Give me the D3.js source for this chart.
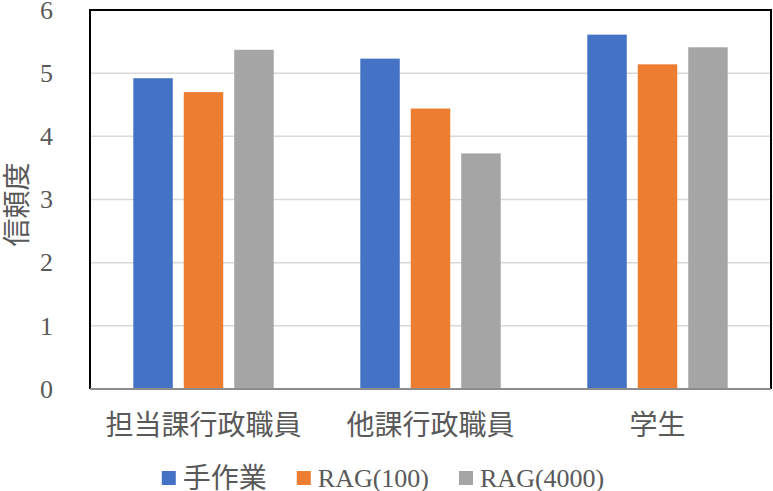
<!DOCTYPE html>
<html>
<head>
<meta charset="utf-8">
<script src="https://cdn.jsdelivr.net/npm/d3@7"></script>
<style>
  body { margin: 0; background: #fff; }
  text { font-family: "Liberation Serif", "Noto Sans CJK JP", serif; fill: #595959; }
</style>
</head>
<body>
<div id="chart"></div>
<script>
// Data
const categories = ["担当課行政職員", "他課行政職員", "学生"];
const seriesNames = ["手作業", "RAG(100)", "RAG(4000)"];
const seriesColors = ["#4472C4", "#ED7D31", "#A5A5A5"];
const manualValues = [4.92, 5.23, 5.61];
const rag100Values = [4.70, 4.44, 5.14];
const rag4000Values = [5.37, 3.73, 5.41];
const yTicks = [0, 1, 2, 3, 4, 5, 6];

const seriesValues = [manualValues, rag100Values, rag4000Values];

// Dimensions
const width = 773;
const height = 491;
const margin = {top: 10, right: 2, bottom: 102, left: 90};
const innerWidth = width - margin.left - margin.right;
const innerHeight = height - margin.top - margin.bottom;

const svg = d3.select("#chart")
  .append("svg")
    .attr("width", width)
    .attr("height", height);

const innerChart = svg
  .append("g")
    .attr("transform", `translate(${margin.left}, ${margin.top})`);

// Scales
const xScale = d3.scaleBand()
  .domain(categories)
  .range([0, innerWidth])
  .padding(0);

const groupWidth = xScale.bandwidth() * 0.667;
const xSub = d3.scaleBand()
  .domain(seriesNames)
  .range([-groupWidth / 2, groupWidth / 2])
  .paddingInner(0.218)
  .paddingOuter(0.109);

const yScale = d3.scaleLinear()
  .domain([0, 6])
  .range([innerHeight, 0]);

// Gridlines
innerChart
  .selectAll(".grid")
  .data(yTicks.filter(d => d > 0 && d < 6))
  .join("line")
    .attr("class", "grid")
    .attr("x1", 0)
    .attr("x2", innerWidth)
    .attr("y1", d => yScale(d))
    .attr("y2", d => yScale(d))
    .attr("stroke", "#d9d9d9")
    .attr("stroke-width", 1.5);

// Bars
const rows = categories.map((c, i) => ({
  category: c,
  values: seriesNames.map((s, j) => ({series: s, value: seriesValues[j][i], color: seriesColors[j]}))
}));

const groups = innerChart
  .selectAll(".group")
  .data(rows)
  .join("g")
    .attr("class", "group")
    .attr("transform", d => `translate(${xScale(d.category) + xScale.bandwidth() / 2}, 0)`);

groups
  .selectAll("rect")
  .data(d => d.values)
  .join("rect")
    .attr("x", d => xSub(d.series))
    .attr("y", d => yScale(d.value))
    .attr("width", xSub.bandwidth())
    .attr("height", d => innerHeight - yScale(d.value))
    .attr("fill", d => d.color);

// Frame (black on left, top, right)
innerChart
  .append("path")
    .attr("d", `M0,${innerHeight} V0 H${innerWidth} V${innerHeight}`)
    .attr("fill", "none")
    .attr("stroke", "#000")
    .attr("stroke-width", 2);

// x-axis baseline
innerChart
  .append("line")
    .attr("x1", 0)
    .attr("x2", innerWidth)
    .attr("y1", innerHeight)
    .attr("y2", innerHeight)
    .attr("stroke", "#8c8c8c")
    .attr("stroke-width", 2);

// y-axis tick labels
const yAxis = d3.axisLeft(yScale)
  .tickValues(yTicks)
  .tickSize(0)
  .tickPadding(37)
  .tickFormat(d3.format("d"));

innerChart
  .append("g")
    .attr("id", "yaxis")
    .call(yAxis)
    .call(g => g.select(".domain").remove())
    .call(g => g.selectAll("text")
      .attr("font-size", 26)
      .attr("fill", "#595959")
      .style("font-family", "'Liberation Serif', serif"));

// x-axis category labels
const xAxis = d3.axisBottom(xScale)
  .tickSize(0)
  .tickPadding(24);

innerChart
  .append("g")
    .attr("id", "xaxis")
    .attr("transform", `translate(0, ${innerHeight})`)
    .call(xAxis)
    .call(g => g.select(".domain").remove())
    .call(g => g.selectAll("text")
      .attr("font-size", 28)
      .attr("fill", "#595959")
      .attr("dy", "0.35em")
      .attr("y", 36)
      .style("font-family", "'Noto Sans CJK JP', sans-serif"));

// y-axis title
svg
  .append("text")
    .text("信頼度")
    .attr("transform", `translate(15, ${margin.top + innerHeight / 2 + 5}) rotate(-90)`)
    .attr("text-anchor", "middle")
    .attr("dominant-baseline", "central")
    .attr("font-size", 28)
    .style("font-family", "'Noto Sans CJK JP', sans-serif");

// Legend
const legend = svg
  .append("g")
    .attr("transform", `translate(0, 478)`);

const items = legend
  .selectAll(".legend-item")
  .data(seriesNames)
  .join("g")
    .attr("class", "legend-item");

items
  .append("rect")
    .attr("width", 14)
    .attr("height", 14)
    .attr("y", -7)
    .attr("fill", (d, i) => seriesColors[i]);

items
  .append("text")
    .text(d => d)
    .attr("x", 21)
    .attr("dominant-baseline", "central")
    .attr("font-size", d => /^RAG/.test(d) ? 26 : 28);

// lay out legend items side by side, centered
let offset = 0;
const itemGap = 30;
const offsets = [];
items.each(function() {
  offsets.push(offset);
  offset += this.getBBox().width + itemGap;
});
const totalWidth = offset - itemGap;
const startX = 383 - totalWidth / 2;
items.attr("transform", (d, i) => `translate(${startX + offsets[i]}, 0)`);
</script>
</body>
</html>
